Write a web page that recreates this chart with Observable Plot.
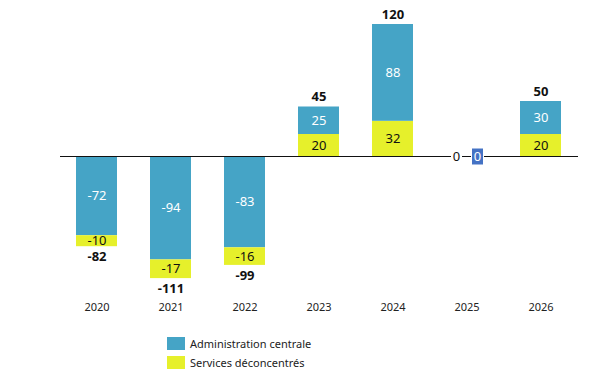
<!DOCTYPE html>
<html><head><meta charset="utf-8">
<script src="https://cdn.jsdelivr.net/npm/d3@7"></script>
<script src="https://cdn.jsdelivr.net/npm/@observablehq/plot@0.6"></script>
<style>
body{margin:0;background:#fff;font-family:"Noto Sans",sans-serif}
#legend{padding-top:17px;margin-left:167px;font-size:11px;color:#222}
.row{display:flex;align-items:center;height:13px;margin-bottom:5.5px}
.sw{width:18px;height:13px;margin-right:5px}
</style>
</head><body><div id="chart"></div><div id="legend"></div><script>
const years = ["2020","2021","2022","2023","2024","2025","2026"];
const adminCentrale = [-72,-94,-83,25,88,0,30];
const servicesDeconcentres = [-10,-17,-16,20,32,0,20];
const seriesNames = ["Administration centrale","Services déconcentrés"];
const colors = ["#45A4C6","#E6F02B"];

const segs = [];
const totals = [];
years.forEach((yr,i)=>{
  const a = adminCentrale[i], s = servicesDeconcentres[i], t = a+s;
  totals.push({year:yr,total:t});
  if (t < 0) {
    segs.push({year:yr,series:seriesNames[0],v:a,y1:0,y2:a});
    segs.push({year:yr,series:seriesNames[1],v:s,y1:a,y2:a+s});
  } else {
    segs.push({year:yr,series:seriesNames[1],v:s,y1:0,y2:s});
    segs.push({year:yr,series:seriesNames[0],v:a,y1:s,y2:s+a});
  }
});
const drawn = segs.filter(d=>d.v!==0);
const zeroBars = segs.filter(d=>d.v===0 && d.series===seriesNames[0]);
const zeroTotals = totals.filter(d=>d.total===0);
const posTotals = totals.filter(d=>d.total>0);
const negTotals = totals.filter(d=>d.total<0);

const boxSym = {draw(ctx){ctx.rect(-5.5,-8,11,16);}};
const whiteSym = {draw(ctx){ctx.rect(-5.5,-7,11,14);}};
const whiteBox = {draw(ctx){ctx.rect(-6.5,-9,13,18);}};

const chart = Plot.plot({
  width:597, height:320,
  marginLeft:60, marginRight:19, marginTop:2, marginBottom:32,
  style:{fontFamily:"Noto Sans, sans-serif", background:"#fff"},
  x:{domain:years, paddingInner:0.44, paddingOuter:0.22, label:null, tickSize:0, tickPadding:15},
  y:{domain:[-120,140], axis:null},
  color:{domain:seriesNames, range:colors},
  marks:[
    Plot.barY(drawn,{x:"year",y1:"y1",y2:"y2",fill:"series"}),
    Plot.ruleY([0],{stroke:"#111",strokeWidth:1.2}),
    Plot.text(drawn,{x:"year",y:d=>(d.y1+d.y2)/2,text:d=>String(d.v),
      fill:d=>d.series===seriesNames[0]?"#fff":"#111",fontSize:13}),
    Plot.text(posTotals,{x:"year",y:"total",text:d=>String(d.total),
      dy:-10,fontSize:13,fontWeight:"bold",fill:"#111"}),
    Plot.text(negTotals,{x:"year",y:"total",text:d=>String(d.total),
      dy:10,fontSize:13,fontWeight:"bold",fill:"#111"}),
    Plot.dot(zeroTotals,{x:"year",y:"total",symbol:whiteSym,fill:"#fff",dx:-10.5}),
    Plot.text(zeroTotals,{x:"year",y:"total",text:d=>String(d.total),dx:-10.5,fontSize:13,fill:"#111"}),
    Plot.dot(zeroBars,{x:"year",y:"y1",symbol:whiteBox,fill:"#fff",dx:10.5}),
    Plot.dot(zeroBars,{x:"year",y:"y1",symbol:boxSym,fill:"#4472C4",dx:10.5}),
    Plot.text(zeroBars,{x:"year",y:"y1",text:d=>String(d.v),dx:10.5,fontSize:13,fill:"#fff"}),
    Plot.axisX({tickSize:0,tickPadding:15,fontSize:11,fill:"#222"})
  ]
});
document.getElementById("chart").appendChild(chart);
const lg = document.getElementById("legend");
seriesNames.forEach((n,i)=>{
  const r = document.createElement("div"); r.className="row";
  const s = document.createElement("div"); s.className="sw"; s.style.background=colors[i];
  const t = document.createElement("span"); t.textContent=n;
  r.appendChild(s); r.appendChild(t); lg.appendChild(r);
});
</script></body></html>
